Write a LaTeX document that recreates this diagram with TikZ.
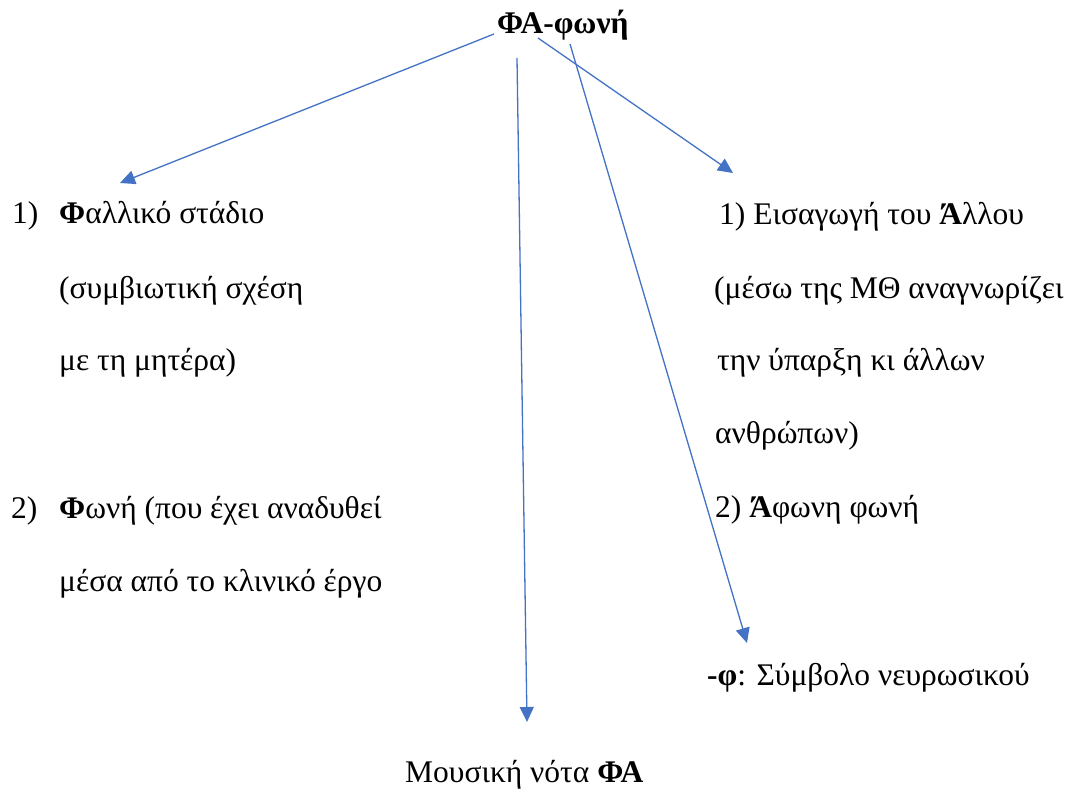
\documentclass[tikz,border=0pt]{standalone}
\usepackage{fontspec}
\setmainfont{Liberation Serif}
\usetikzlibrary{arrows.meta}
\definecolor{arrowblue}{HTML}{4472C4}
\tikzset{
  txt/.style={anchor=base west, inner sep=0pt, font=\fontsize{31.5}{36}\selectfont},
  conn/.style={draw=arrowblue, line width=1.3pt, -{Triangle[length=15pt,width=14pt]}, fill=none}
}
\begin{document}
\begin{tikzpicture}[x=1pt,y=-1pt]
\useasboundingbox[fill=white] (0,0) rectangle (1077,789);
% title
\node[txt] (title) at (497,34) {\textbf{ΦΑ-φωνή}};
% left column
\node[txt] (l1n) at (12,223) {1)};
\node[txt] (l1) at (59,223) {\textbf{Φ}αλλικό στάδιο};
\node[txt] (l2) at (59,298) {(συμβιωτική σχέση};
\node[txt] (l3) at (59,370) {με τη μητέρα)};
\node[txt] (l4n) at (11,518) {2)};
\node[txt] (l4) at (59,518) {\textbf{Φ}ωνή (που έχει αναδυθεί};
\node[txt] (l5) at (59,591) {μέσα από το κλινικό έργο};
% right column
\node[txt] (r1) at (719,224) {1) Εισαγωγή του \textbf{Ά}λλου};
\node[txt] (r2) at (714,298) {(μέσω της ΜΘ αναγνωρίζει};
\node[txt] (r3) at (717,370) {την ύπαρξη κι άλλων};
\node[txt] (r4) at (715,443) {ανθρώπων)};
\node[txt] (r5) at (715,517) {2) \textbf{Ά}φωνη φωνή};
\node[txt] (r6) at (707,685) {\textbf{-φ}: Σύμβολο νευρωσικού};
% bottom
\node[txt] (b1) at (405,782) {Μουσική νότα \textbf{ΦΑ}};
% connector endpoints
\coordinate (s1) at (494,34);
\coordinate (e1) at (120,183);
\coordinate (s2) at (517,58);
\coordinate (e2) at (527,722);
\coordinate (s3) at (538,38);
\coordinate (e3) at (733,173);
\coordinate (s4) at (570,44);
\coordinate (e4) at (747,643);
\draw[conn] (s1) -- (e1);
\draw[conn] (s2) -- (e2);
\draw[conn] (s3) -- (e3);
\draw[conn] (s4) -- (e4);
\end{tikzpicture}
\end{document}
